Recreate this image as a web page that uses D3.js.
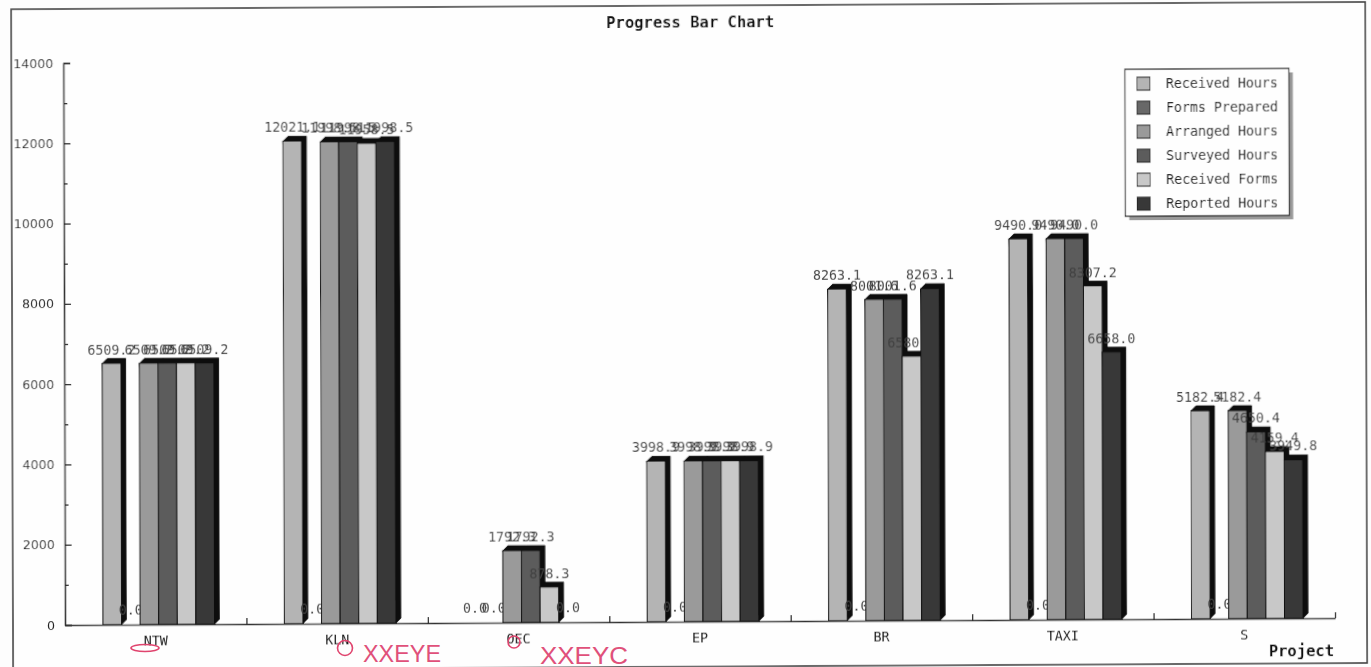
<!DOCTYPE html>
<html>
<head>
<meta charset="utf-8">
<script src="https://cdn.jsdelivr.net/npm/d3@7"></script>
<style>
html, body { margin: 0; padding: 0; background: #fdfdfd; overflow: hidden; }
svg { display: block; }
</style>
</head>
<body>
<svg id="chart" width="1371" height="667"></svg>
<script>
let categorias = ["NTW","KLN","OEC","EP","BR","TAXI","S"];
let nombres = ["Received Hours","Forms Prepared","Arranged Hours","Surveyed Hours","Received Forms","Reported Hours"];
let colores = ["#b4b4b4","#686868","#9a9a9a","#5c5c5c","#c8c8c8","#383838"];

let receivedHours = [6509.2,12021.1,0,3998.9,8263.1,9490.0,5182.4];
let formsPrepared = [0,0,0,0,0,0,0];
let arrangedHours = [6509.2,11998.5,1792.3,3998.9,8001.6,9490.0,5182.4];
let surveyedHours = [6509.2,11998.5,1792.3,3998.9,8001.6,9490.0,4650.4];
let receivedForms = [6509.2,11958.5,878.3,3998.9,6580.4,8307.2,4159.4];
let reportedHours = [6509.2,11998.5,0,3998.9,8263.1,6658.0,3949.8];
let series = [receivedHours,formsPrepared,arrangedHours,surveyedHours,receivedForms,reportedHours];

let ticksMayores = [0,2000,4000,6000,8000,10000,12000,14000];
let ticksMenores = [1000,3000,5000,7000,9000,11000,13000];

let fuenteMono = "'DejaVu Sans Mono', monospace";
let prof = 5;

let svg = d3.select("#chart");

// desenfoque ligero del escaneo
svg.append("defs").append("filter")
    .attr("id","escaneo")
    .append("feGaussianBlur")
    .attr("stdDeviation",0.45);

// la hoja escaneada esta un poco torcida
let hoja = svg.append("g")
    .attr("transform","translate(65,625) matrix(1,-0.0054,0.003,1,0,0) translate(-65,-625)")
    .attr("filter","url(#escaneo)");

hoja.append("rect")
    .attr("x",13).attr("y",9)
    .attr("width",1354).attr("height",661)
    .style("fill","#fefefe")
    .style("stroke","#444")
    .style("stroke-width",1.6);

let xscale = d3.scaleBand().domain(categorias).range([65,1335]).paddingInner(0.385).paddingOuter(0.1925);
let sscale = d3.scaleBand().domain(d3.range(nombres.length)).range([0,xscale.bandwidth()]);
let yscale = d3.scaleLinear().domain([0,14000]).range([625,63]);
let bordes = d3.scaleLinear().domain([0,categorias.length]).range([65,1335]);

let barras = hoja.append("g").attr("transform","translate(3,0)");

series.forEach(function(valores,s) {
    let g = barras.append("g").attr("class","serie_" + s);
    categorias.forEach(function(cat,i) {
        let v = valores[i];
        let x0 = xscale(cat) + sscale(s);
        let w = sscale.bandwidth();
        let y0 = yscale(0);
        let y1 = yscale(v);

        if (v > 0) {
            g.append("path")
                .attr("d","M" + x0 + "," + y1 + "l" + prof + "," + (-prof) + "h" + w + "v" + (y0 - y1) + "l" + (-prof) + "," + prof + "z")
                .style("fill","#0c0c0c")
                .style("stroke","#0c0c0c")
                .style("stroke-width",0.8);
            g.append("rect")
                .attr("x",x0).attr("y",y1)
                .attr("width",w).attr("height",y0 - y1)
                .style("fill",colores[s])
                .style("stroke","#111")
                .style("stroke-width",1);
        }

        g.append("text")
            .attr("x",x0 + w/2)
            .attr("y",(v > 0 ? y1 - prof - 4 : y0 - 10))
            .text(v.toFixed(1))
            .style("text-anchor","middle")
            .style("font-family",fuenteMono)
            .style("font-size","13.3px")
            .style("fill","#404040");
    });
});

// ejes
let ejeY = hoja.append("g").attr("transform","translate(65,0)")
    .call(d3.axisLeft(yscale).tickValues(ticksMayores).tickFormat(d3.format("d")).tickSize(-7).tickPadding(10));
ejeY.selectAll("text")
    .style("font-family","'DejaVu Sans', sans-serif")
    .style("font-size","12.6px")
    .style("fill","#222");

hoja.append("g").attr("transform","translate(65,0)")
    .call(d3.axisLeft(yscale).tickValues(ticksMenores).tickFormat("").tickSize(-4).tickSizeOuter(0));

hoja.append("g").attr("transform","translate(0,625)")
    .call(d3.axisTop(bordes).tickValues(d3.range(1,categorias.length + 1)).tickFormat("").tickSize(6).tickSizeOuter(0));

let ejeX = hoja.append("g").attr("transform","translate(0,625)")
    .call(d3.axisBottom(d3.scaleBand().domain(categorias).range([65,1335])).tickSize(0).tickPadding(12));
ejeX.select(".domain").remove();
ejeX.selectAll("text")
    .style("font-family",fuenteMono)
    .style("font-size","13.3px")
    .style("fill","#111");

hoja.selectAll(".domain, .tick line").style("stroke","#333").style("stroke-width",1.3);

hoja.append("text")
    .attr("x",692).attr("y",31)
    .text("Progress Bar Chart")
    .style("text-anchor","middle")
    .style("font-family",fuenteMono)
    .style("font-weight","bold")
    .style("font-size","15.5px")
    .style("fill","#111");

hoja.append("text")
    .attr("x",1334).attr("y",663)
    .text("Project")
    .style("text-anchor","end")
    .style("font-family",fuenteMono)
    .style("font-weight","bold")
    .style("font-size","15.5px")
    .style("fill","#111");

// leyenda
let leyenda = hoja.append("g").attr("transform","translate(1126.5,75)");
leyenda.append("rect")
    .attr("x",4).attr("y",4).attr("width",164).attr("height",147)
    .style("fill","#9a9a9a");
leyenda.append("rect")
    .attr("width",164).attr("height",147)
    .style("fill","#fefefe")
    .style("stroke","#222")
    .style("stroke-width",1.2);

let filas = leyenda.selectAll(".fila")
    .data(nombres)
    .enter()
    .append("g")
    .attr("class","fila")
    .attr("transform",(d,i) => "translate(0," + (8 + i*24) + ")");
filas.append("rect")
    .attr("x",12).attr("y",0).attr("width",13).attr("height",13)
    .style("fill",(d,i) => colores[i])
    .style("stroke","#222")
    .style("stroke-width",1);
filas.append("text")
    .attr("x",41).attr("y",11)
    .text(d => d)
    .style("font-family",fuenteMono)
    .style("font-size","13.3px")
    .style("fill","#111");

// marcas a mano en rojo
let rojo = svg.append("g").style("stroke","#e0446e").style("fill","none").style("stroke-width",1.6);
rojo.append("ellipse").attr("cx",145).attr("cy",648).attr("rx",14).attr("ry",3.5);
rojo.append("circle").attr("cx",345).attr("cy",648).attr("r",7.5);
rojo.append("ellipse").attr("cx",514).attr("cy",642).attr("rx",6).attr("ry",6);

let notas = [["XXEYE",363,662,78],["XXEYC",540,664,88]];
svg.selectAll(".nota")
    .data(notas)
    .enter()
    .append("text")
    .attr("class","nota")
    .attr("x",d => d[1]).attr("y",d => d[2])
    .attr("textLength",d => d[3])
    .attr("lengthAdjust","spacingAndGlyphs")
    .text(d => d[0])
    .style("font-family","'Liberation Sans', sans-serif")
    .style("font-size","24px")
    .style("fill","#e0507a");
</script>
</body>
</html>
